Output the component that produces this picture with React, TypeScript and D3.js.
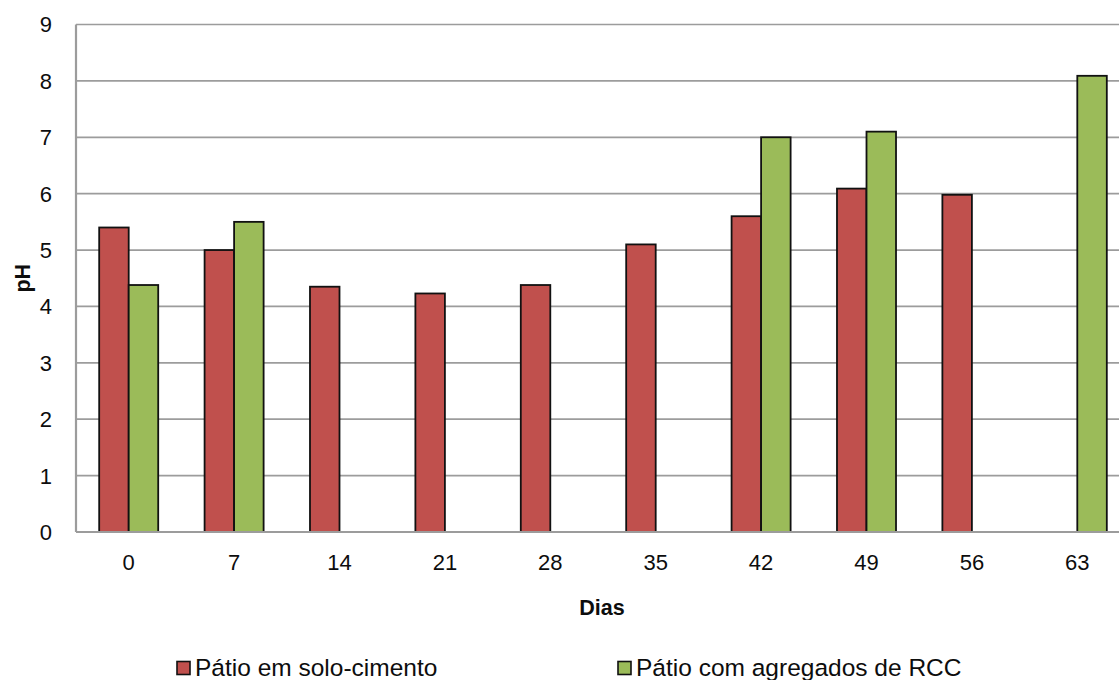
import React from "react";
import * as d3 from "d3";

// Days of measurement and pH per courtyard type (null = not measured)
const dias: string[] = ["0", "7", "14", "21", "28", "35", "42", "49", "56", "63"];
const soloCimento: (number | null)[] = [5.4, 5.0, 4.35, 4.23, 4.38, 5.1, 5.6, 6.09, 5.98, null];
const agregadosRCC: (number | null)[] = [4.38, 5.5, null, null, null, null, 7.0, 7.1, null, 8.09];
const seriesNames: string[] = ["Pátio em solo-cimento", "Pátio com agregados de RCC"];
const seriesColors: string[] = ["#C0504D", "#9BBB59"];
const yTicks: number[] = [0, 1, 2, 3, 4, 5, 6, 7, 8, 9];

const W = 1119;
const H = 680;
const left = 76;
const right = 1130;
const top = 24.5;
const bottom = 532;
const FONT = "'Liberation Sans', Arial, sans-serif";

export default function App() {
  const x = d3.scaleBand<string>().domain(dias).range([left, right]).paddingInner(0.44).paddingOuter(0.22);
  const x1 = d3.scaleBand<string>().domain(["0", "1"]).range([0, x.bandwidth()]);
  const y = d3.scaleLinear().domain([0, 9]).range([bottom, top]);
  const series = [soloCimento, agregadosRCC];

  return (
    <svg
      width={W}
      height={H}
      style={{ position: "absolute", left: 0, top: 0, background: "#fff" }}
      fontFamily={FONT}
    >
      <defs>
        <clipPath id="clip">
          <rect x={0} y={0} width={W} height={H} />
        </clipPath>
      </defs>
      <g clipPath="url(#clip)">
        {/* horizontal gridlines */}
        {yTicks.slice(1).map((t) => (
          <line key={t} x1={left} x2={right} y1={y(t)} y2={y(t)} stroke="#9c9c9c" strokeWidth={1.7} />
        ))}
        {/* bars */}
        {series.map((vals, si) =>
          vals.map((v, i) =>
            v == null ? null : (
              <rect
                key={`${si}-${i}`}
                x={(x(dias[i]) ?? 0) + (x1(String(si)) ?? 0)}
                y={y(v)}
                width={x1.bandwidth()}
                height={y(0) - y(v)}
                fill={seriesColors[si]}
                stroke="#111"
                strokeWidth={1.8}
              />
            )
          )
        )}
        {/* axes lines */}
        <line x1={left} x2={left} y1={top} y2={bottom} stroke="#9c9c9c" strokeWidth={2.2} />
        <line x1={left} x2={right} y1={bottom} y2={bottom} stroke="#9c9c9c" strokeWidth={2.2} />
      </g>

      {/* y tick labels */}
      {yTicks.map((t) => (
        <text key={t} x={52} y={y(t)} dy="0.36em" textAnchor="end" fontSize={22} fill="#0d0d0d">
          {t}
        </text>
      ))}
      {/* x tick labels */}
      {dias.map((d) => (
        <text key={d} x={(x(d) ?? 0) + x.bandwidth() / 2} y={570} textAnchor="middle" fontSize={22} fill="#0d0d0d">
          {d}
        </text>
      ))}

      {/* axis titles */}
      <text x={602} y={615} textAnchor="middle" fontSize={21.5} fontWeight="bold" fill="#0d0d0d">
        Dias
      </text>
      <text
        transform={`translate(30, ${(top + bottom) / 2}) rotate(-90)`}
        textAnchor="middle"
        fontSize={21.5}
        fontWeight="bold"
        fill="#0d0d0d"
      >
        pH
      </text>

      {/* legend */}
      {seriesNames.map((name, i) => {
        const lx = [177, 618][i];
        return (
          <g key={name}>
            <rect x={lx} y={661.5} width={13} height={13} fill={seriesColors[i]} stroke="#111" strokeWidth={1.6} />
            <text x={lx + 18} y={676} fontSize={24.5} fill="#0d0d0d">
              {name}
            </text>
          </g>
        );
      })}
    </svg>
  );
}
